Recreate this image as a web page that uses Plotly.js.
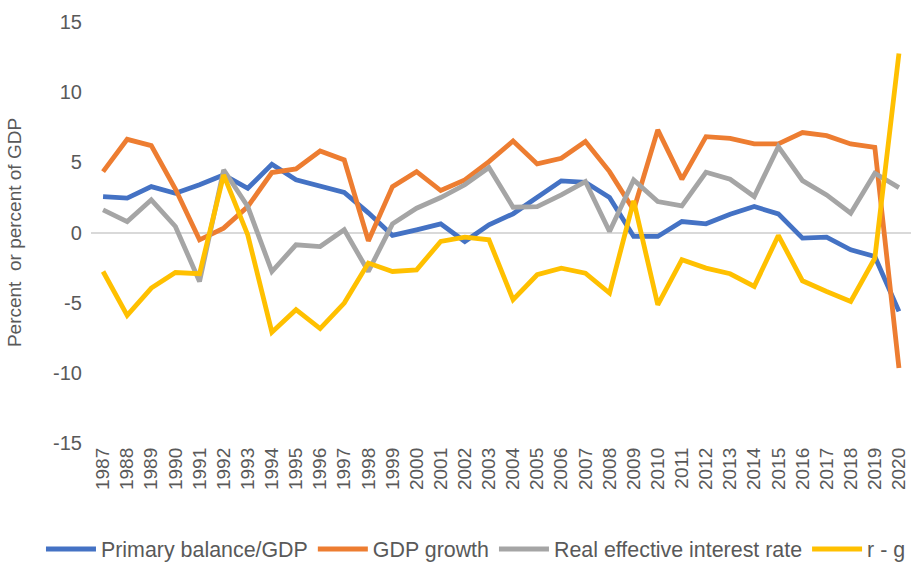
<!DOCTYPE html>
<html>
<head>
<meta charset="utf-8">
<script src="https://cdn.plot.ly/plotly-3.0.1.min.js"></script>
<style>html,body{margin:0;padding:0;background:#fff;}#chart{width:918px;height:562px;}</style>
</head>
<body>
<div id="chart"></div>
<script>
const years = ["1987","1988","1989","1990","1991","1992","1993","1994","1995","1996","1997","1998","1999","2000","2001","2002","2003","2004","2005","2006","2007","2008","2009","2010","2011","2012","2013","2014","2015","2016","2017","2018","2019","2020"];
const primaryBalance = [2.55,2.45,3.27,2.8,3.4,4.1,3.15,4.86,3.75,3.32,2.85,1.4,-0.21,0.19,0.62,-0.64,0.55,1.33,2.49,3.68,3.58,2.49,-0.28,-0.28,0.78,0.62,1.3,1.85,1.33,-0.4,-0.33,-1.23,-1.71,-5.62];
const gdpGrowth = [4.34,6.64,6.19,3.1,-0.52,0.31,1.85,4.27,4.53,5.81,5.17,-0.6,3.27,4.34,2.99,3.75,5.05,6.52,4.89,5.29,6.48,4.34,1.6,7.31,3.79,6.83,6.71,6.31,6.31,7.12,6.9,6.31,6.07,-9.66];
const realRate = [1.61,0.78,2.33,0.43,-3.49,4.46,1.85,-2.78,-0.88,-1.0,0.19,-2.78,0.62,1.73,2.49,3.4,4.63,1.8,1.85,2.68,3.63,0.07,3.75,2.21,1.9,4.29,3.79,2.56,6.12,3.7,2.68,1.37,4.22,3.2];
const rMinusG = [-2.78,-5.9,-3.96,-2.85,-2.94,4.1,-0.17,-7.1,-5.5,-6.85,-5.03,-2.18,-2.78,-2.66,-0.64,-0.33,-0.52,-4.79,-3.01,-2.54,-2.9,-4.32,2.26,-5.15,-1.94,-2.54,-2.94,-3.84,-0.21,-3.44,-4.2,-4.91,-1.83,12.76];
const yTicks = [-15,-10,-5,0,5,10,15];

const seriesNames = ["Primary balance/GDP","GDP growth","Real effective interest rate","r - g"];
const seriesData = [primaryBalance, gdpGrowth, realRate, rMinusG];
const colors = ["#4472C4","#ED7D31","#A5A5A5","#FFC000"];

const traces = seriesData.map((d,i)=>({
  x: years, y: d, type: "scatter", mode: "lines", name: seriesNames[i],
  line: {color: colors[i], width: 4.8}
}));

const layout = {
  width: 918, height: 562,
  margin: {l: 91, r: 7, t: 22, b: 119, autoexpand: false},
  paper_bgcolor: "#fff", plot_bgcolor: "#fff",
  font: {family: "Liberation Sans, Arial, sans-serif", color: "#595959"},
  showlegend: true,
  legend: {orientation: "h", x: -0.061, xanchor: "left", y: -0.252, yanchor: "middle",
           font: {size: 21.4, color: "#595959"}, itemwidth: 50, tracegroupgap: 0},
  xaxis: {type: "category", tickangle: -90, tickfont: {size: 19, color: "#595959"},
          showgrid: false, showline: false, ticks: "", range: [-0.5, 33.5], automargin: false},
  yaxis: {range: [-15, 15], tickvals: yTicks,
          ticktext: yTicks.map(v => String(v) + "\u00a0\u00a0"),
          tickfont: {size: 20, color: "#595959"}, showgrid: false, zeroline: true,
          zerolinecolor: "#d9d9d9", zerolinewidth: 2, showline: false, ticks: "",
          ticklen: 0, ticklabelstandoff: -3, automargin: false,
          title: {text: "Percent  or percent of GDP", font: {size: 19, color: "#595959"}, standoff: 26}}
};
Plotly.newPlot("chart", traces, layout, {displayModeBar: false, staticPlot: true});
</script>
</body>
</html>
